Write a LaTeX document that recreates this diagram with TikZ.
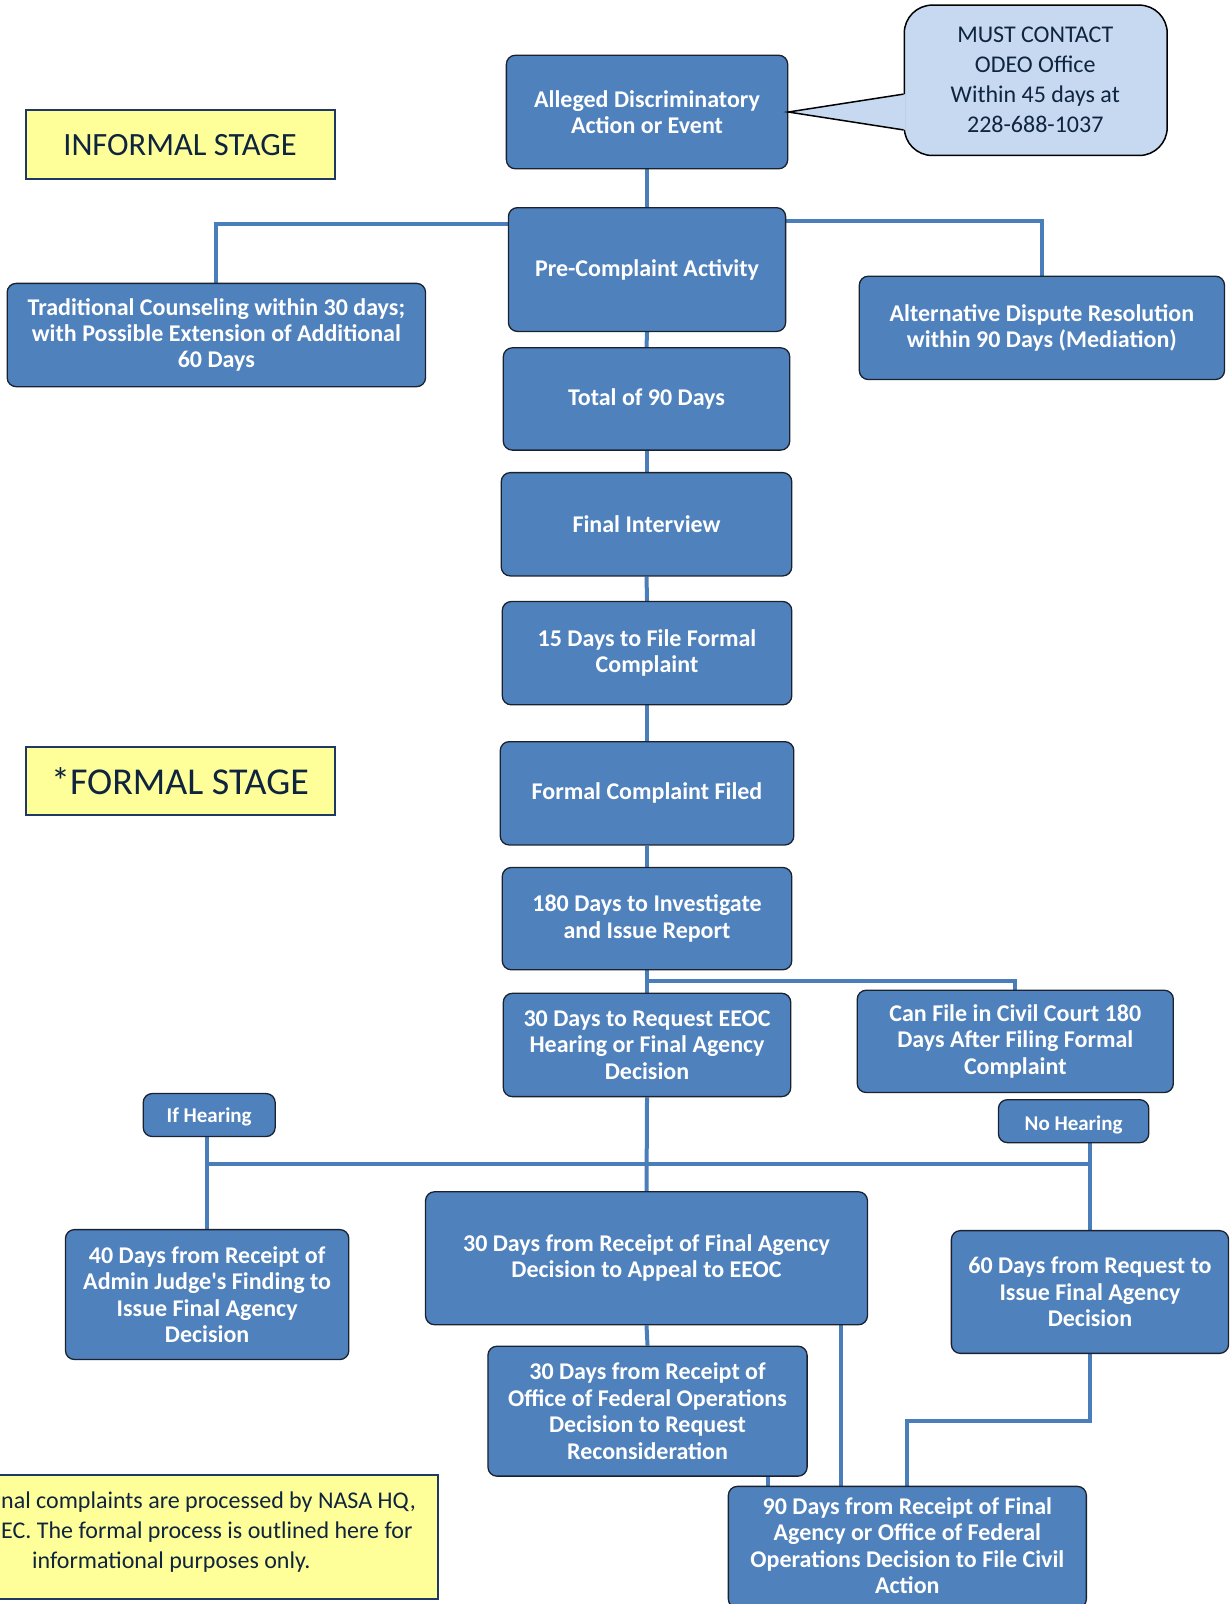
\documentclass[tikz,border=0pt]{standalone}
\usepackage{fontspec}
\setmainfont{Carlito}
\usetikzlibrary{fit,calc,backgrounds}
\definecolor{boxblue}{HTML}{4F81BD}
\definecolor{lineblue}{HTML}{4A7EBB}
\definecolor{edgecol}{HTML}{1A2230}
\definecolor{calloutfill}{HTML}{C6D9F1}
\definecolor{noteyellow}{HTML}{FFFF99}
\definecolor{noteedge}{HTML}{1F3864}
\definecolor{darktext}{HTML}{0F243E}
\begin{document}
\begin{tikzpicture}[x=1.0233pt,y=-1.0233pt,
  box/.style={draw=edgecol, line width=1.3pt, fill=boxblue, rounded corners=9pt, inner sep=0pt},
  boxtext/.style={inner sep=0pt, text=white, font=\fontsize{24}{26.4}\selectfont\bfseries, align=center},
  smalltext/.style={boxtext, font=\fontsize{21}{24}\selectfont\bfseries},
  conn/.style={draw=lineblue, line width=4pt},
  stagebox/.style={draw=noteedge, line width=2pt, fill=noteyellow, inner sep=0pt},
  notetext/.style={text=darktext, font=\fontsize{24}{29.7}\selectfont, inner sep=0pt, align=center},
]
\useasboundingbox (0,0) rectangle (1202,1568);
\clip (0,0) rectangle (1202,1568);

% stage labels
\node[stagebox, fit={(25,108) (327,175)}] (informal) {};
\node[notetext, font=\fontsize{32.5}{36}\selectfont] (informal-t) at (informal.center) {INFORMAL STAGE};
\node[stagebox, fit={(25,730) (327,797)}] (formal) {};
\node[notetext, font=\fontsize{38}{42}\selectfont] (formal-t) at (formal.center) {*FORMAL STAGE};

% process boxes
\node[box, fit={(495,54) (770,165)}] (alleged) {};
\node[boxtext] (alleged-t) at (alleged.center) {Alleged Discriminatory\\Action or Event};
\node[box, fit={(497,203) (768,324)}] (pre) {};
\node[boxtext] (pre-t) at (pre.center) {Pre-Complaint Activity};
\node[box, fit={(7,277) (416,378)}] (trad) {};
\node[boxtext] (trad-t) at (trad.center) {Traditional Counseling within 30 days;\\with Possible Extension of Additional\\60 Days};
\node[box, fit={(840,270) (1197,371)}] (adr) {};
\node[boxtext] (adr-t) at (adr.center) {Alternative Dispute Resolution\\within 90 Days (Mediation)};
\node[box, fit={(492,340) (772,440)}] (total) {};
\node[boxtext] (total-t) at (total.center) {Total of 90 Days};
\node[box, fit={(490,462) (774,563)}] (final) {};
\node[boxtext] (final-t) at (final.center) {Final Interview};
\node[box, fit={(491,588) (774,689)}] (fifteen) {};
\node[boxtext] (fifteen-t) at (fifteen.center) {15 Days to File Formal\\Complaint};
\node[box, fit={(489,725) (776,826)}] (filed) {};
\node[boxtext] (filed-t) at (filed.center) {Formal Complaint Filed};
\node[box, fit={(491,848) (774,948)}] (inv) {};
\node[boxtext] (inv-t) at (inv.center) {180 Days to Investigate\\and Issue Report};
\node[box, fit={(492,971) (773,1072)}] (req) {};
\node[boxtext] (req-t) at (req.center) {30 Days to Request EEOC\\Hearing or Final Agency\\Decision};
\node[box, fit={(838,968) (1147,1068)}] (civil) {};
\node[boxtext] (civil-t) at (civil.center) {Can File in Civil Court 180\\Days After Filing Formal\\Complaint};
\node[box, fit={(140,1069) (269,1111)}] (ifh) {};
\node[smalltext] (ifh-t) at ($(ifh.center)+(0,2)$) {If Hearing};
\node[box, fit={(976,1075) (1123,1117)}] (noh) {};
\node[smalltext] (noh-t) at ($(noh.center)+(0,4)$) {No Hearing};
\node[box, fit={(64,1202) (341,1329)}] (forty) {};
\node[boxtext] (forty-t) at (forty.center) {40 Days from Receipt of\\Admin Judge\textquotesingle s Finding to\\Issue Final Agency\\Decision};
\node[box, fit={(416,1165) (848,1295)}] (appeal) {};
\node[boxtext] (appeal-t) at (appeal.center) {30 Days from Receipt of Final Agency\\Decision to Appeal to EEOC};
\node[box, fit={(930,1203) (1201,1323)}] (sixty) {};
\node[boxtext] (sixty-t) at (sixty.center) {60 Days from Request to\\Issue Final Agency\\Decision};
\node[box, fit={(477,1316) (789,1443)}] (ofo) {};
\node[boxtext] (ofo-t) at (ofo.center) {30 Days from Receipt of\\Office of Federal Operations\\Decision to Request\\Reconsideration};
\node[box, fit={(712,1453) (1062,1572)}] (ninety) {};
\node[boxtext] (ninety-t) at (887,1511) {90 Days from Receipt of Final\\Agency or Office of Federal\\Operations Decision to File Civil\\Action};

% callout
\node[draw=black, line width=1.5pt, fill=calloutfill, rounded corners=28pt, inner sep=0pt,
  fit={(884,5) (1141,152)}] (callout) {};
\coordinate (pb1) at ($(callout.west)+(0,13.5)$);
\coordinate (pb2) at ($(callout.west)+(0,48.5)$);
\fill[calloutfill] ($(pb1)+(2,0)$) -- (alleged.east) -- ($(pb2)+(2,0)$) -- cycle;
\draw[black, line width=1.5pt, line join=miter] (pb1) -- (alleged.east) -- (pb2);
\node[notetext] (callout-t) at (1012,78) {MUST CONTACT\\ODEO Office\\Within 45 days at\\228-688-1037};

% note box (partly outside the page)
\node[stagebox, fit={(-100,1442) (428,1563)}] (note) {};
\node[notetext, anchor=base west] (n1) at (1,1475) {nal complaints are processed by NASA HQ,};
\node[notetext, anchor=base west] (n2) at (1,1504) {EC. The formal process is outlined here for};
\node[notetext, anchor=base] (n3) at (167.5,1533) {informational purposes only.};

% connectors
\begin{scope}[on background layer]
\draw[conn] (alleged.south) -- (pre.north);
\draw[conn] ($(pre.north west)+(0,17)$) -| (trad.north);
\draw[conn] ($(pre.north east)+(0,14)$) -| (adr.north);
\draw[conn] (pre.south) -- (total.north);
\draw[conn] (total.south) -- (final.north);
\draw[conn] (final.south) -- (fifteen.north);
\draw[conn] (fifteen.south) -- (filed.north);
\draw[conn] (filed.south) -- (inv.north);
\draw[conn] (inv.south) -- (req.north);
\draw[conn] ($(inv.south)+(0,10)$) -| (civil.north);
\draw[conn] (req.south) -- (appeal.north);
\coordinate (bar) at ($(req.south)+(0,65)$);
\draw[conn] (forty.north |- bar) -- (sixty.north |- bar);
\draw[conn] (forty.north |- ifh.south) -- (forty.north);
\draw[conn] (sixty.north |- noh.south) -- (sixty.north);
\draw[conn] (appeal.south) -- (ofo.north);
\coordinate (ap) at ($(appeal.south east)+(-27,0)$);
\draw[conn] (ap) -- (ap |- ninety.north);
\coordinate (oq) at ($(ofo.south east)+(-39,0)$);
\draw[conn] (oq) -- (oq |- ninety.north);
\draw[conn] (sixty.south) -- ++(0,65) -| (ninety.north);
\end{scope}
\end{tikzpicture}
\end{document}
